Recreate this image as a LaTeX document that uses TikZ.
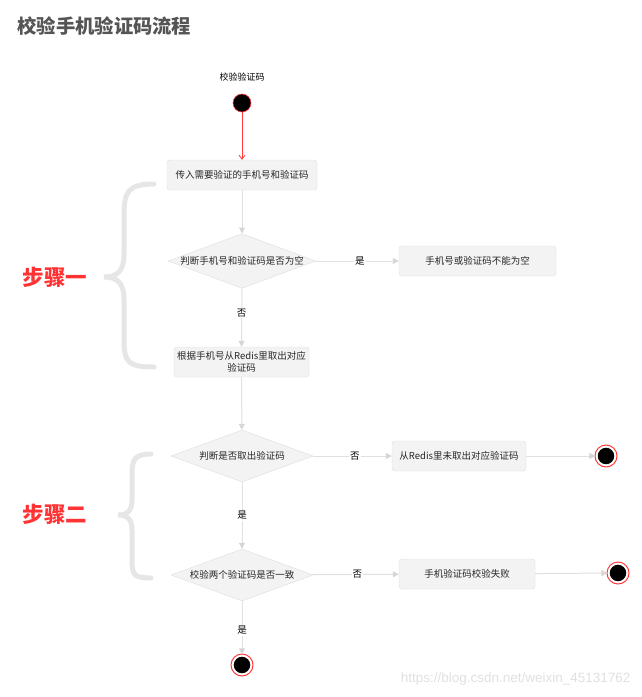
\documentclass[tikz,border=0pt]{standalone}
\usepackage{fontspec}
\setmainfont{Noto Sans CJK SC}
\newfontfamily\latinsans{Liberation Sans}
\usetikzlibrary{shapes.geometric,arrows.meta}
\definecolor{boxfill}{HTML}{F3F3F3}
\definecolor{boxline}{HTML}{DDDDDD}
\definecolor{lineg}{HTML}{E0E0E0}
\definecolor{headg}{HTML}{D6D6D6}
\definecolor{stepred}{HTML}{FF3333}
\definecolor{titleg}{HTML}{555555}
\definecolor{braceg}{HTML}{E6E6E6}
\definecolor{endred}{HTML}{FF3B3B}
\tikzset{
  x=1pt,y=-1pt,
  stepbox/.style={draw=boxline,fill=boxfill,rounded corners=3pt,inner sep=0pt,text=black!85,font=\fontsize{9.5}{11}\selectfont,align=center},
  decide/.style={diamond,draw=boxline,fill=boxfill,inner sep=0pt,text=black!85,font=\fontsize{9.5}{11}\selectfont,minimum width=142pt,minimum height=52pt,aspect=2.7},
  flow/.style={draw=lineg,line width=1pt,-{Triangle[width=6pt,length=6pt,fill=headg,color=headg]}},
  lbl/.style={font=\fontsize{9.5}{11}\selectfont,fill=white,inner sep=1pt},
  startdot/.style={circle,fill=black,draw=endred,line width=0.6pt,minimum size=18pt,inner sep=0pt},
  enddot/.style={circle,fill=black,draw=white,line width=2.2pt,minimum size=19pt,inner sep=0pt},
  bracel/.style={draw=braceg,line width=5pt,line cap=round},
  steplbl/.style={text=stepred,font=\fontsize{21.5}{23}\selectfont\bfseries}
}
\begin{document}
\begin{tikzpicture}
\useasboundingbox (0,0) rectangle (642,697);
\node[anchor=west,text=titleg,font=\fontsize{19.3}{21}\selectfont\bfseries] (title) at (14,26) {校验手机验证码流程};
\node[font=\fontsize{9}{10}\selectfont] (startlbl) at (242,77) {校验验证码};
\node[startdot] (start) at (242,103) {};
\node[stepbox,minimum width=150pt,minimum height=30pt] (b1) at (242,175) {传入需要验证的手机号和验证码};
\node[decide] (d1) at (242,261) {判断手机号和验证码是否为空};
\node[stepbox,minimum width=157pt,minimum height=30pt] (b2) at (477.5,261) {手机号或验证码不能为空};
\node[stepbox,minimum width=135pt,minimum height=30pt,font=\fontsize{9.5}{11.5}\selectfont] (b3) at (241.5,362) {根据手机号从Redis里取出对应\\验证码};
\node[decide] (d2) at (242,456) {判断是否取出验证码};
\node[stepbox,minimum width=134pt,minimum height=30pt] (b4) at (459,456) {从Redis里未取出对应验证码};
\node[enddot] (e1) at (606,456) {};
\node[decide] (d3) at (242,575) {校验两个验证码是否一致};
\node[stepbox,minimum width=136pt,minimum height=30pt] (b5) at (467,574) {手机验证码校验失败};
\node[enddot] (e2) at (618,573) {};
\node[enddot] (e3) at (242,665) {};
\foreach \n in {e1,e2,e3}{\draw[endred,line width=1pt] (\n) circle (11pt);}
\draw[endred,line width=0.8pt,-{Straight Barb[width=6pt,length=4pt]}] (start) -- (b1);
\draw[flow] (b1) -- (d1);
\draw[flow] (d1) -- node[lbl,pos=0.53]{是} (b2);
\draw[flow] (d1) -- node[lbl,pos=0.42]{否} (b3);
\draw[flow] (b3) -- (d2);
\draw[flow] (d2) -- node[lbl,pos=0.53]{否} (b4);
\draw[flow] (b4) -- (e1);
\draw[flow] (d2) -- node[lbl,pos=0.5]{是} (d3);
\draw[flow] (d3) -- node[lbl,pos=0.52]{否} (b5);
\draw[flow] (b5) -- (e2);
\draw[flow] (d3) -- node[lbl,pos=0.55]{是} (e3);
% braces
\draw[bracel] (154,184) .. controls (128,184) and (124,192) .. (124,215) -- (124,255)
  .. controls (124,272) and (116,277) .. (104,277)
  .. controls (116,277) and (124,282) .. (124,299) -- (124,340)
  .. controls (124,362) and (128,367) .. (154,367);
\draw[bracel] (151,454) .. controls (134,454) and (132,460) .. (132,475) -- (132,500)
  .. controls (132,511) and (127,515) .. (118,515)
  .. controls (127,515) and (132,519) .. (132,530) -- (132,560)
  .. controls (132,575) and (134,578) .. (151,578);
\node[steplbl,anchor=west] (s1) at (19,277) {步骤一};
\node[steplbl,anchor=west] (s2) at (19,514) {步骤二};
\node[anchor=east,text=black!12,font=\latinsans\fontsize{13.5}{15}\selectfont] (wm) at (634,679) {https://blog.csdn.net/weixin\_45131762};
\end{tikzpicture}
\end{document}
